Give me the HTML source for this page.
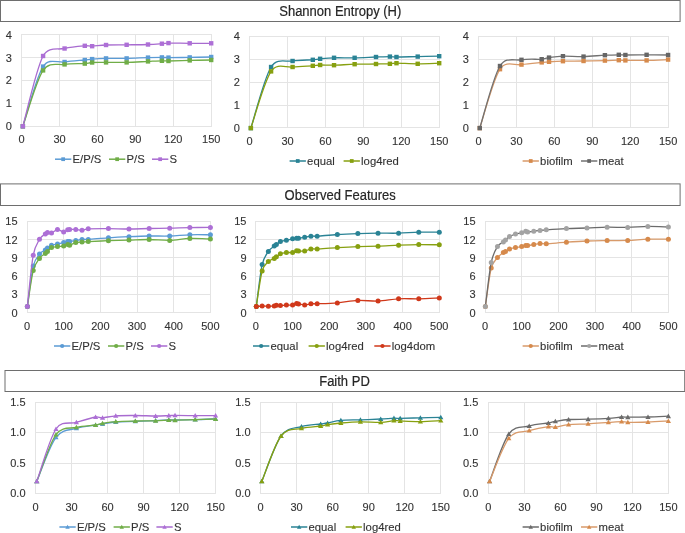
<!DOCTYPE html><html><head><meta charset="utf-8"><style>html,body{margin:0;padding:0;background:#fff;width:685px;height:533px;overflow:hidden}svg{display:block;will-change:transform;filter:blur(0.35px)}text{font-family:'Liberation Sans',sans-serif;stroke:#333;stroke-width:0.12px}</style></head><body>
<svg width="685" height="533" viewBox="0 0 685 533">
<rect width="685" height="533" fill="#fff"/>
<rect x="0.5" y="0.5" width="679.6" height="21" fill="#fff" stroke="#6e6e6e" stroke-width="1"/>
<text x="340.3" y="15.8" font-size="14" fill="#262626" style="stroke:#262626;stroke-width:0.2px" text-anchor="middle" textLength="122.1" lengthAdjust="spacingAndGlyphs">Shannon Entropy (H)</text>
<rect x="0.5" y="183.9" width="679.6" height="21.6" fill="#fff" stroke="#6e6e6e" stroke-width="1"/>
<text x="340.2" y="199.5" font-size="14" fill="#262626" style="stroke:#262626;stroke-width:0.2px" text-anchor="middle" textLength="111.3" lengthAdjust="spacingAndGlyphs">Observed Features</text>
<rect x="5.0" y="370.5" width="679.7" height="21" fill="#fff" stroke="#6e6e6e" stroke-width="1"/>
<text x="344.5" y="385.8" font-size="14" fill="#262626" style="stroke:#262626;stroke-width:0.2px" text-anchor="middle" textLength="50.6" lengthAdjust="spacingAndGlyphs">Faith PD</text>
<path d="M21,126.5H212M21,103.5H212M21,80.5H212M21,57.5H212M21,34.5H212M21.5,34V127M59.5,34V127M97.5,34V127M135.5,34V127M173.5,34V127M211.5,34V127" stroke="#e4e4e4" stroke-width="1" fill="none"/>
<text x="11.9" y="130.2" font-size="11" fill="#333333" text-anchor="end">0</text>
<text x="11.9" y="107.3" font-size="11" fill="#333333" text-anchor="end">1</text>
<text x="11.9" y="84.4" font-size="11" fill="#333333" text-anchor="end">2</text>
<text x="11.9" y="61.5" font-size="11" fill="#333333" text-anchor="end">3</text>
<text x="11.9" y="38.6" font-size="11" fill="#333333" text-anchor="end">4</text>
<text x="21.6" y="143.3" font-size="11" fill="#333333" text-anchor="middle">0</text>
<text x="59.52" y="143.3" font-size="11" fill="#333333" text-anchor="middle">30</text>
<text x="97.44" y="143.3" font-size="11" fill="#333333" text-anchor="middle">60</text>
<text x="135.36" y="143.3" font-size="11" fill="#333333" text-anchor="middle">90</text>
<text x="173.28" y="143.3" font-size="11" fill="#333333" text-anchor="middle">120</text>
<text x="211.2" y="143.3" font-size="11" fill="#333333" text-anchor="middle">150</text>
<path d="M22.86,126.3 C26.23,116.35 36.14,77.32 43.09,66.6 C49.07,57.38 57.62,63.1 64.58,62 C71.53,60.9 80.21,60.48 84.8,60 C88.47,59.61 88.59,59.37 92.13,59.1 C95.67,58.83 100.28,58.52 106.04,58.4 C111.79,58.28 119.64,58.53 126.64,58.4 C133.63,58.27 142.12,57.77 148,57.6 C153.88,57.43 158.49,57.4 161.9,57.4 C165.19,57.4 165.19,57.6 168.48,57.6 C173.11,57.6 182.59,57.5 189.71,57.4 C196.83,57.3 207.62,57.07 211.2,57" stroke="#5b9bd5" stroke-width="1.3" fill="none" stroke-linejoin="round"/>
<rect x="20.66" y="124.1" width="4.4" height="4.4" fill="#5b9bd5"/><rect x="40.89" y="64.4" width="4.4" height="4.4" fill="#5b9bd5"/><rect x="62.38" y="59.8" width="4.4" height="4.4" fill="#5b9bd5"/><rect x="82.6" y="57.8" width="4.4" height="4.4" fill="#5b9bd5"/><rect x="89.93" y="56.9" width="4.4" height="4.4" fill="#5b9bd5"/><rect x="103.84" y="56.2" width="4.4" height="4.4" fill="#5b9bd5"/><rect x="124.44" y="56.2" width="4.4" height="4.4" fill="#5b9bd5"/><rect x="145.8" y="55.4" width="4.4" height="4.4" fill="#5b9bd5"/><rect x="159.7" y="55.2" width="4.4" height="4.4" fill="#5b9bd5"/><rect x="166.28" y="55.4" width="4.4" height="4.4" fill="#5b9bd5"/><rect x="187.51" y="55.2" width="4.4" height="4.4" fill="#5b9bd5"/><rect x="209" y="54.8" width="4.4" height="4.4" fill="#5b9bd5"/>
<path d="M22.86,126.3 C26.23,116.98 36.14,80.72 43.09,70.4 C49.32,61.15 57.62,65.53 64.58,64.4 C71.53,63.27 80.21,63.92 84.8,63.6 C88.5,63.35 88.59,62.7 92.13,62.5 C95.67,62.3 100.28,62.42 106.04,62.4 C111.79,62.38 119.64,62.57 126.64,62.4 C133.63,62.23 142.12,61.67 148,61.4 C153.88,61.13 158.49,60.87 161.9,60.8 C165.19,60.74 165.19,61.05 168.48,61 C173.11,60.93 182.59,60.57 189.71,60.4 C196.83,60.23 207.62,60.07 211.2,60" stroke="#70ad47" stroke-width="1.3" fill="none" stroke-linejoin="round"/>
<rect x="20.66" y="124.1" width="4.4" height="4.4" fill="#70ad47"/><rect x="40.89" y="68.2" width="4.4" height="4.4" fill="#70ad47"/><rect x="62.38" y="62.2" width="4.4" height="4.4" fill="#70ad47"/><rect x="82.6" y="61.4" width="4.4" height="4.4" fill="#70ad47"/><rect x="89.93" y="60.3" width="4.4" height="4.4" fill="#70ad47"/><rect x="103.84" y="60.2" width="4.4" height="4.4" fill="#70ad47"/><rect x="124.44" y="60.2" width="4.4" height="4.4" fill="#70ad47"/><rect x="145.8" y="59.2" width="4.4" height="4.4" fill="#70ad47"/><rect x="159.7" y="58.6" width="4.4" height="4.4" fill="#70ad47"/><rect x="166.28" y="58.8" width="4.4" height="4.4" fill="#70ad47"/><rect x="187.51" y="58.2" width="4.4" height="4.4" fill="#70ad47"/><rect x="209" y="57.8" width="4.4" height="4.4" fill="#70ad47"/>
<path d="M22.86,126.3 C26.23,114.58 36.14,68.97 43.09,56 C48.47,45.97 57.62,50.2 64.58,48.5 C71.53,46.8 80.21,46.18 84.8,45.8 C88.46,45.49 88.59,46.33 92.13,46.2 C95.67,46.07 100.28,45.23 106.04,45 C111.79,44.77 119.64,44.88 126.64,44.8 C133.63,44.72 142.12,44.68 148,44.5 C153.88,44.32 158.49,43.93 161.9,43.7 C165.2,43.47 165.18,43.15 168.48,43.1 C173.11,43.03 182.59,43.27 189.71,43.3 C196.83,43.33 207.62,43.3 211.2,43.3" stroke="#a86bd0" stroke-width="1.3" fill="none" stroke-linejoin="round"/>
<rect x="20.66" y="124.1" width="4.4" height="4.4" fill="#ad6fd6"/><rect x="40.89" y="53.8" width="4.4" height="4.4" fill="#ad6fd6"/><rect x="62.38" y="46.3" width="4.4" height="4.4" fill="#ad6fd6"/><rect x="82.6" y="43.6" width="4.4" height="4.4" fill="#ad6fd6"/><rect x="89.93" y="44" width="4.4" height="4.4" fill="#ad6fd6"/><rect x="103.84" y="42.8" width="4.4" height="4.4" fill="#ad6fd6"/><rect x="124.44" y="42.6" width="4.4" height="4.4" fill="#ad6fd6"/><rect x="145.8" y="42.3" width="4.4" height="4.4" fill="#ad6fd6"/><rect x="159.7" y="41.5" width="4.4" height="4.4" fill="#ad6fd6"/><rect x="166.28" y="40.9" width="4.4" height="4.4" fill="#ad6fd6"/><rect x="187.51" y="41.1" width="4.4" height="4.4" fill="#ad6fd6"/><rect x="209" y="41.1" width="4.4" height="4.4" fill="#ad6fd6"/>
<path d="M55,159.2H71.3" stroke="#5b9bd5" stroke-width="1.5"/>
<rect x="61.28" y="157.33" width="3.74" height="3.74" fill="#5b9bd5"/>
<text x="72.5" y="162.9" font-size="11.3" fill="#333333">E/P/S</text>
<path d="M109,159.2H125.3" stroke="#70ad47" stroke-width="1.5"/>
<rect x="115.28" y="157.33" width="3.74" height="3.74" fill="#70ad47"/>
<text x="126.5" y="162.9" font-size="11.3" fill="#333333">P/S</text>
<path d="M152,159.2H168.3" stroke="#a86bd0" stroke-width="1.5"/>
<rect x="158.28" y="157.33" width="3.74" height="3.74" fill="#ad6fd6"/>
<text x="169.5" y="162.9" font-size="11.3" fill="#333333">S</text>
<path d="M249,127.5H440M249,105.5H440M249,82.5H440M249,59.5H440M249,36.5H440M249.5,36V128M287.5,36V128M325.5,36V128M363.5,36V128M401.5,36V128M439.5,36V128" stroke="#e4e4e4" stroke-width="1" fill="none"/>
<text x="239.9" y="131.8" font-size="11" fill="#333333" text-anchor="end">0</text>
<text x="239.9" y="108.95" font-size="11" fill="#333333" text-anchor="end">1</text>
<text x="239.9" y="86.1" font-size="11" fill="#333333" text-anchor="end">2</text>
<text x="239.9" y="63.25" font-size="11" fill="#333333" text-anchor="end">3</text>
<text x="239.9" y="40.4" font-size="11" fill="#333333" text-anchor="end">4</text>
<text x="249.6" y="144.9" font-size="11" fill="#333333" text-anchor="middle">0</text>
<text x="287.52" y="144.9" font-size="11" fill="#333333" text-anchor="middle">30</text>
<text x="325.44" y="144.9" font-size="11" fill="#333333" text-anchor="middle">60</text>
<text x="363.36" y="144.9" font-size="11" fill="#333333" text-anchor="middle">90</text>
<text x="401.28" y="144.9" font-size="11" fill="#333333" text-anchor="middle">120</text>
<text x="439.2" y="144.9" font-size="11" fill="#333333" text-anchor="middle">150</text>
<path d="M250.86,128.1 C254.23,117.92 264.14,78.18 271.09,67 C276.98,57.53 285.62,62.2 292.58,61 C299.53,59.8 308.21,60.17 312.8,59.8 C316.49,59.51 316.59,59.13 320.13,58.8 C323.67,58.47 328.28,57.97 334.04,57.8 C339.79,57.63 347.64,57.93 354.64,57.8 C361.63,57.67 370.12,57.2 376,57 C381.88,56.8 386.49,56.6 389.9,56.6 C393.2,56.6 393.18,57 396.48,57 C401.11,57 410.59,56.73 417.71,56.6 C424.83,56.47 435.62,56.27 439.2,56.2" stroke="#2a8395" stroke-width="1.3" fill="none" stroke-linejoin="round"/>
<rect x="248.66" y="125.9" width="4.4" height="4.4" fill="#2a8395"/><rect x="268.89" y="64.8" width="4.4" height="4.4" fill="#2a8395"/><rect x="290.38" y="58.8" width="4.4" height="4.4" fill="#2a8395"/><rect x="310.6" y="57.6" width="4.4" height="4.4" fill="#2a8395"/><rect x="317.93" y="56.6" width="4.4" height="4.4" fill="#2a8395"/><rect x="331.84" y="55.6" width="4.4" height="4.4" fill="#2a8395"/><rect x="352.44" y="55.6" width="4.4" height="4.4" fill="#2a8395"/><rect x="373.8" y="54.8" width="4.4" height="4.4" fill="#2a8395"/><rect x="387.7" y="54.4" width="4.4" height="4.4" fill="#2a8395"/><rect x="394.28" y="54.8" width="4.4" height="4.4" fill="#2a8395"/><rect x="415.51" y="54.4" width="4.4" height="4.4" fill="#2a8395"/><rect x="437" y="54" width="4.4" height="4.4" fill="#2a8395"/>
<path d="M250.86,128.1 C254.23,118.65 264.14,81.58 271.09,71.4 C277.27,62.34 285.62,67.93 292.58,67 C299.53,66.07 308.21,66.13 312.8,65.8 C316.48,65.53 316.59,65.1 320.13,65 C323.67,64.9 328.28,65.33 334.04,65.2 C339.79,65.07 347.64,64.4 354.64,64.2 C361.63,64 370.12,64.07 376,64 C381.88,63.93 386.49,63.93 389.9,63.8 C393.2,63.67 393.18,63.2 396.48,63.2 C401.11,63.2 410.59,63.8 417.71,63.8 C424.83,63.8 435.62,63.3 439.2,63.2" stroke="#87a010" stroke-width="1.3" fill="none" stroke-linejoin="round"/>
<rect x="248.66" y="125.9" width="4.4" height="4.4" fill="#87a010"/><rect x="268.89" y="69.2" width="4.4" height="4.4" fill="#87a010"/><rect x="290.38" y="64.8" width="4.4" height="4.4" fill="#87a010"/><rect x="310.6" y="63.6" width="4.4" height="4.4" fill="#87a010"/><rect x="317.93" y="62.8" width="4.4" height="4.4" fill="#87a010"/><rect x="331.84" y="63" width="4.4" height="4.4" fill="#87a010"/><rect x="352.44" y="62" width="4.4" height="4.4" fill="#87a010"/><rect x="373.8" y="61.8" width="4.4" height="4.4" fill="#87a010"/><rect x="387.7" y="61.6" width="4.4" height="4.4" fill="#87a010"/><rect x="394.28" y="61" width="4.4" height="4.4" fill="#87a010"/><rect x="415.51" y="61.6" width="4.4" height="4.4" fill="#87a010"/><rect x="437" y="61" width="4.4" height="4.4" fill="#87a010"/>
<path d="M289.6,161H305.9" stroke="#2a8395" stroke-width="1.5"/>
<rect x="295.88" y="159.13" width="3.74" height="3.74" fill="#2a8395"/>
<text x="307.1" y="164.7" font-size="11.3" fill="#333333">equal</text>
<path d="M343.6,161H359.9" stroke="#87a010" stroke-width="1.5"/>
<rect x="349.88" y="159.13" width="3.74" height="3.74" fill="#87a010"/>
<text x="361.1" y="164.7" font-size="11.3" fill="#333333">log4red</text>
<path d="M478,127.5H669M478,105.5H669M478,82.5H669M478,59.5H669M478,36.5H669M478.5,36V128M516.5,36V128M554.5,36V128M592.5,36V128M630.5,36V128M668.5,36V128" stroke="#e4e4e4" stroke-width="1" fill="none"/>
<text x="468.8" y="131.8" font-size="11" fill="#333333" text-anchor="end">0</text>
<text x="468.8" y="108.95" font-size="11" fill="#333333" text-anchor="end">1</text>
<text x="468.8" y="86.1" font-size="11" fill="#333333" text-anchor="end">2</text>
<text x="468.8" y="63.25" font-size="11" fill="#333333" text-anchor="end">3</text>
<text x="468.8" y="40.4" font-size="11" fill="#333333" text-anchor="end">4</text>
<text x="478.5" y="144.9" font-size="11" fill="#333333" text-anchor="middle">0</text>
<text x="516.42" y="144.9" font-size="11" fill="#333333" text-anchor="middle">30</text>
<text x="554.34" y="144.9" font-size="11" fill="#333333" text-anchor="middle">60</text>
<text x="592.26" y="144.9" font-size="11" fill="#333333" text-anchor="middle">90</text>
<text x="630.18" y="144.9" font-size="11" fill="#333333" text-anchor="middle">120</text>
<text x="668.1" y="144.9" font-size="11" fill="#333333" text-anchor="middle">150</text>
<path d="M479.76,128.1 C483.13,118.28 493.04,79.78 499.99,69.2 C506.02,60.02 514.52,65.73 521.48,64.6 C528.43,63.47 537.11,62.87 541.7,62.4 C545.36,62.03 545.49,62 549.03,61.8 C552.57,61.6 557.18,61.33 562.94,61.2 C568.69,61.07 576.54,61.1 583.54,61 C590.53,60.9 599.02,60.73 604.9,60.6 C610.78,60.47 615.39,60.23 618.8,60.2 C622.09,60.17 622.09,60.38 625.38,60.4 C630.01,60.43 639.49,60.53 646.61,60.4 C653.73,60.27 664.52,59.73 668.1,59.6" stroke="#d89a6a" stroke-width="1.3" fill="none" stroke-linejoin="round"/>
<rect x="477.56" y="125.9" width="4.4" height="4.4" fill="#d68a4c"/><rect x="497.79" y="67" width="4.4" height="4.4" fill="#d68a4c"/><rect x="519.28" y="62.4" width="4.4" height="4.4" fill="#d68a4c"/><rect x="539.5" y="60.2" width="4.4" height="4.4" fill="#d68a4c"/><rect x="546.83" y="59.6" width="4.4" height="4.4" fill="#d68a4c"/><rect x="560.74" y="59" width="4.4" height="4.4" fill="#d68a4c"/><rect x="581.34" y="58.8" width="4.4" height="4.4" fill="#d68a4c"/><rect x="602.7" y="58.4" width="4.4" height="4.4" fill="#d68a4c"/><rect x="616.6" y="58" width="4.4" height="4.4" fill="#d68a4c"/><rect x="623.18" y="58.2" width="4.4" height="4.4" fill="#d68a4c"/><rect x="644.41" y="58.2" width="4.4" height="4.4" fill="#d68a4c"/><rect x="665.9" y="57.4" width="4.4" height="4.4" fill="#d68a4c"/>
<path d="M479.76,128.1 C483.13,117.75 493.04,77.38 499.99,66 C505.82,56.46 514.52,60.93 521.48,59.8 C528.43,58.67 537.11,59.57 541.7,59.2 C545.44,58.9 545.49,58.1 549.03,57.6 C552.57,57.1 557.18,56.37 562.94,56.2 C568.69,56.03 576.54,56.77 583.54,56.6 C590.53,56.43 599.02,55.5 604.9,55.2 C610.78,54.9 615.39,54.83 618.8,54.8 C622.09,54.77 622.09,55 625.38,55 C630.01,55 639.49,54.8 646.61,54.8 C653.73,54.8 664.52,54.97 668.1,55" stroke="#727272" stroke-width="1.3" fill="none" stroke-linejoin="round"/>
<rect x="477.56" y="125.9" width="4.4" height="4.4" fill="#666666"/><rect x="497.79" y="63.8" width="4.4" height="4.4" fill="#666666"/><rect x="519.28" y="57.6" width="4.4" height="4.4" fill="#666666"/><rect x="539.5" y="57" width="4.4" height="4.4" fill="#666666"/><rect x="546.83" y="55.4" width="4.4" height="4.4" fill="#666666"/><rect x="560.74" y="54" width="4.4" height="4.4" fill="#666666"/><rect x="581.34" y="54.4" width="4.4" height="4.4" fill="#666666"/><rect x="602.7" y="53" width="4.4" height="4.4" fill="#666666"/><rect x="616.6" y="52.6" width="4.4" height="4.4" fill="#666666"/><rect x="623.18" y="52.8" width="4.4" height="4.4" fill="#666666"/><rect x="644.41" y="52.6" width="4.4" height="4.4" fill="#666666"/><rect x="665.9" y="52.8" width="4.4" height="4.4" fill="#666666"/>
<path d="M522.6,161H538.9" stroke="#d89a6a" stroke-width="1.5"/>
<rect x="528.88" y="159.13" width="3.74" height="3.74" fill="#d68a4c"/>
<text x="540.1" y="164.7" font-size="11.3" fill="#333333">biofilm</text>
<path d="M581,161H597.3" stroke="#727272" stroke-width="1.5"/>
<rect x="587.28" y="159.13" width="3.74" height="3.74" fill="#666666"/>
<text x="598.5" y="164.7" font-size="11.3" fill="#333333">meat</text>
<path d="M27,312.5H211M27,294.5H211M27,276.5H211M27,257.5H211M27,239.5H211M27,221.5H211M27.5,221V313M63.5,221V313M100.5,221V313M137.5,221V313M173.5,221V313M210.5,221V313" stroke="#e4e4e4" stroke-width="1" fill="none"/>
<text x="17.6" y="316.5" font-size="11" fill="#333333" text-anchor="end">0</text>
<text x="17.6" y="298.26" font-size="11" fill="#333333" text-anchor="end">3</text>
<text x="17.6" y="280.02" font-size="11" fill="#333333" text-anchor="end">6</text>
<text x="17.6" y="261.78" font-size="11" fill="#333333" text-anchor="end">9</text>
<text x="17.6" y="243.54" font-size="11" fill="#333333" text-anchor="end">12</text>
<text x="17.6" y="225.3" font-size="11" fill="#333333" text-anchor="end">15</text>
<text x="27" y="329.6" font-size="11" fill="#333333" text-anchor="middle">0</text>
<text x="63.68" y="329.6" font-size="11" fill="#333333" text-anchor="middle">100</text>
<text x="100.36" y="329.6" font-size="11" fill="#333333" text-anchor="middle">200</text>
<text x="137.04" y="329.6" font-size="11" fill="#333333" text-anchor="middle">300</text>
<text x="173.72" y="329.6" font-size="11" fill="#333333" text-anchor="middle">400</text>
<text x="210.4" y="329.6" font-size="11" fill="#333333" text-anchor="middle">500</text>
<path d="M27.37,306.6 C28.34,299.83 31.22,274.77 33.24,266 C34.75,259.41 37.45,256.67 39.47,254 C41.49,251.33 44.01,251 45.34,250 C46.51,249.12 46.44,248.8 47.47,248 C48.49,247.2 49.83,245.87 51.5,245.2 C53.17,244.53 55.45,244.43 57.48,244 C59.51,243.57 61.97,243 63.68,242.6 C65.39,242.2 66.72,241.8 67.71,241.6 C68.65,241.41 68.67,241.52 69.62,241.4 C70.97,241.23 73.72,240.93 75.78,240.6 C77.85,240.27 79.94,239.6 82.02,239.4 C84.1,239.2 85.14,239.59 88.26,239.4 C92.66,239.13 101.64,238.25 108.43,237.8 C115.22,237.35 122.18,237 128.97,236.7 C135.76,236.4 142.36,236.12 149.14,236 C155.93,235.88 162.9,236.2 169.69,236 C176.47,235.8 183.07,235 189.86,234.8 C196.65,234.6 206.98,234.8 210.4,234.8" stroke="#5b9bd5" stroke-width="1.3" fill="none" stroke-linejoin="round"/>
<circle cx="27.37" cy="306.6" r="2.5" fill="#5b9bd5"/><circle cx="33.24" cy="266" r="2.5" fill="#5b9bd5"/><circle cx="39.47" cy="254" r="2.5" fill="#5b9bd5"/><circle cx="45.34" cy="250" r="2.5" fill="#5b9bd5"/><circle cx="47.47" cy="248" r="2.5" fill="#5b9bd5"/><circle cx="51.5" cy="245.2" r="2.5" fill="#5b9bd5"/><circle cx="57.48" cy="244" r="2.5" fill="#5b9bd5"/><circle cx="63.68" cy="242.6" r="2.5" fill="#5b9bd5"/><circle cx="67.71" cy="241.6" r="2.5" fill="#5b9bd5"/><circle cx="69.62" cy="241.4" r="2.5" fill="#5b9bd5"/><circle cx="75.78" cy="240.6" r="2.5" fill="#5b9bd5"/><circle cx="82.02" cy="239.4" r="2.5" fill="#5b9bd5"/><circle cx="88.26" cy="239.4" r="2.5" fill="#5b9bd5"/><circle cx="108.43" cy="237.8" r="2.5" fill="#5b9bd5"/><circle cx="128.97" cy="236.7" r="2.5" fill="#5b9bd5"/><circle cx="149.14" cy="236" r="2.5" fill="#5b9bd5"/><circle cx="169.69" cy="236" r="2.5" fill="#5b9bd5"/><circle cx="189.86" cy="234.8" r="2.5" fill="#5b9bd5"/><circle cx="210.4" cy="234.8" r="2.5" fill="#5b9bd5"/>
<path d="M27.37,306.6 C28.34,300.6 31.22,278.63 33.24,270.6 C34.9,263.96 37.45,261.27 39.47,258.4 C41.49,255.53 44.01,254.57 45.34,253.4 C46.44,252.44 46.44,252.37 47.47,251.4 C48.49,250.43 49.83,248.4 51.5,247.6 C53.17,246.8 55.45,246.87 57.48,246.6 C59.51,246.33 61.97,246.37 63.68,246 C65.39,245.63 66.72,244.53 67.71,244.4 C68.71,244.27 68.61,245.43 69.62,245.2 C70.97,244.9 73.72,243.13 75.78,242.6 C77.85,242.07 79.94,242.17 82.02,242 C84.1,241.83 85.14,241.75 88.26,241.6 C92.66,241.38 101.64,240.95 108.43,240.7 C115.22,240.45 122.18,240.3 128.97,240.1 C135.76,239.9 142.36,239.45 149.14,239.5 C155.93,239.55 162.9,240.58 169.69,240.4 C176.47,240.22 183.07,238.63 189.86,238.4 C196.65,238.17 206.98,238.9 210.4,239" stroke="#70ad47" stroke-width="1.3" fill="none" stroke-linejoin="round"/>
<circle cx="27.37" cy="306.6" r="2.5" fill="#70ad47"/><circle cx="33.24" cy="270.6" r="2.5" fill="#70ad47"/><circle cx="39.47" cy="258.4" r="2.5" fill="#70ad47"/><circle cx="45.34" cy="253.4" r="2.5" fill="#70ad47"/><circle cx="47.47" cy="251.4" r="2.5" fill="#70ad47"/><circle cx="51.5" cy="247.6" r="2.5" fill="#70ad47"/><circle cx="57.48" cy="246.6" r="2.5" fill="#70ad47"/><circle cx="63.68" cy="246" r="2.5" fill="#70ad47"/><circle cx="67.71" cy="244.4" r="2.5" fill="#70ad47"/><circle cx="69.62" cy="245.2" r="2.5" fill="#70ad47"/><circle cx="75.78" cy="242.6" r="2.5" fill="#70ad47"/><circle cx="82.02" cy="242" r="2.5" fill="#70ad47"/><circle cx="88.26" cy="241.6" r="2.5" fill="#70ad47"/><circle cx="108.43" cy="240.7" r="2.5" fill="#70ad47"/><circle cx="128.97" cy="240.1" r="2.5" fill="#70ad47"/><circle cx="149.14" cy="239.5" r="2.5" fill="#70ad47"/><circle cx="169.69" cy="240.4" r="2.5" fill="#70ad47"/><circle cx="189.86" cy="238.4" r="2.5" fill="#70ad47"/><circle cx="210.4" cy="239" r="2.5" fill="#70ad47"/>
<path d="M27.37,306.6 C28.34,298.03 31.22,266.43 33.24,255.2 C34.75,246.75 37.45,242.73 39.47,239.2 C41.42,235.8 44.01,235.13 45.34,234 C46.35,233.14 46.44,232.57 47.47,232.4 C48.49,232.23 49.83,233.47 51.5,233 C53.17,232.53 55.45,229.77 57.48,229.6 C59.51,229.43 61.97,231.97 63.68,232 C65.39,232.03 66.72,230.23 67.71,229.8 C68.61,229.41 68.65,229.45 69.62,229.4 C70.97,229.33 73.72,229.27 75.78,229.4 C77.85,229.53 79.94,230.3 82.02,230.2 C84.1,230.1 85.07,228.99 88.26,228.8 C92.66,228.53 101.64,228.57 108.43,228.6 C115.22,228.63 122.18,229.02 128.97,229 C135.76,228.98 142.36,228.63 149.14,228.5 C155.93,228.37 162.9,228.35 169.69,228.2 C176.47,228.05 183.07,227.73 189.86,227.6 C196.65,227.47 206.98,227.43 210.4,227.4" stroke="#a86bd0" stroke-width="1.3" fill="none" stroke-linejoin="round"/>
<circle cx="27.37" cy="306.6" r="2.5" fill="#ad6fd6"/><circle cx="33.24" cy="255.2" r="2.5" fill="#ad6fd6"/><circle cx="39.47" cy="239.2" r="2.5" fill="#ad6fd6"/><circle cx="45.34" cy="234" r="2.5" fill="#ad6fd6"/><circle cx="47.47" cy="232.4" r="2.5" fill="#ad6fd6"/><circle cx="51.5" cy="233" r="2.5" fill="#ad6fd6"/><circle cx="57.48" cy="229.6" r="2.5" fill="#ad6fd6"/><circle cx="63.68" cy="232" r="2.5" fill="#ad6fd6"/><circle cx="67.71" cy="229.8" r="2.5" fill="#ad6fd6"/><circle cx="69.62" cy="229.4" r="2.5" fill="#ad6fd6"/><circle cx="75.78" cy="229.4" r="2.5" fill="#ad6fd6"/><circle cx="82.02" cy="230.2" r="2.5" fill="#ad6fd6"/><circle cx="88.26" cy="228.8" r="2.5" fill="#ad6fd6"/><circle cx="108.43" cy="228.6" r="2.5" fill="#ad6fd6"/><circle cx="128.97" cy="229" r="2.5" fill="#ad6fd6"/><circle cx="149.14" cy="228.5" r="2.5" fill="#ad6fd6"/><circle cx="169.69" cy="228.2" r="2.5" fill="#ad6fd6"/><circle cx="189.86" cy="227.6" r="2.5" fill="#ad6fd6"/><circle cx="210.4" cy="227.4" r="2.5" fill="#ad6fd6"/>
<path d="M54,346H70.3" stroke="#5b9bd5" stroke-width="1.5"/>
<circle cx="62.15" cy="346" r="2.12" fill="#5b9bd5"/>
<text x="71.5" y="349.7" font-size="11.3" fill="#333333">E/P/S</text>
<path d="M108,346H124.3" stroke="#70ad47" stroke-width="1.5"/>
<circle cx="116.15" cy="346" r="2.12" fill="#70ad47"/>
<text x="125.5" y="349.7" font-size="11.3" fill="#333333">P/S</text>
<path d="M151,346H167.3" stroke="#a86bd0" stroke-width="1.5"/>
<circle cx="159.15" cy="346" r="2.12" fill="#ad6fd6"/>
<text x="168.5" y="349.7" font-size="11.3" fill="#333333">S</text>
<path d="M255,312.5H440M255,294.5H440M255,276.5H440M255,257.5H440M255,239.5H440M255,221.5H440M255.5,221V313M292.5,221V313M329.5,221V313M365.5,221V313M402.5,221V313M439.5,221V313" stroke="#e4e4e4" stroke-width="1" fill="none"/>
<text x="246.5" y="316.5" font-size="11" fill="#333333" text-anchor="end">0</text>
<text x="246.5" y="298.26" font-size="11" fill="#333333" text-anchor="end">3</text>
<text x="246.5" y="280.02" font-size="11" fill="#333333" text-anchor="end">6</text>
<text x="246.5" y="261.78" font-size="11" fill="#333333" text-anchor="end">9</text>
<text x="246.5" y="243.54" font-size="11" fill="#333333" text-anchor="end">12</text>
<text x="246.5" y="225.3" font-size="11" fill="#333333" text-anchor="end">15</text>
<text x="255.9" y="329.6" font-size="11" fill="#333333" text-anchor="middle">0</text>
<text x="292.58" y="329.6" font-size="11" fill="#333333" text-anchor="middle">100</text>
<text x="329.26" y="329.6" font-size="11" fill="#333333" text-anchor="middle">200</text>
<text x="365.94" y="329.6" font-size="11" fill="#333333" text-anchor="middle">300</text>
<text x="402.62" y="329.6" font-size="11" fill="#333333" text-anchor="middle">400</text>
<text x="439.3" y="329.6" font-size="11" fill="#333333" text-anchor="middle">500</text>
<path d="M256.27,306.6 C257.24,299.6 260.12,273.8 262.14,264.6 C263.7,257.47 266.35,254.5 268.37,251.4 C270.39,248.3 272.91,247.13 274.24,246 C275.21,245.18 275.34,245.33 276.37,244.6 C277.39,243.87 278.73,242.33 280.4,241.6 C282.07,240.87 284.35,240.67 286.38,240.2 C288.41,239.73 290.87,239.13 292.58,238.8 C294.29,238.47 295.62,238.3 296.61,238.2 C297.56,238.1 297.58,238.32 298.52,238.2 C299.87,238.03 302.62,237.53 304.68,237.2 C306.75,236.87 308.84,236.37 310.92,236.2 C313,236.03 314.04,236.4 317.16,236.2 C321.56,235.92 330.54,234.93 337.33,234.5 C344.12,234.07 351.08,233.82 357.87,233.6 C364.66,233.38 371.26,233.27 378.04,233.2 C384.83,233.13 391.8,233.37 398.59,233.2 C405.37,233.03 411.97,232.37 418.76,232.2 C425.55,232.03 435.88,232.2 439.3,232.2" stroke="#2a8395" stroke-width="1.3" fill="none" stroke-linejoin="round"/>
<circle cx="256.27" cy="306.6" r="2.5" fill="#2a8395"/><circle cx="262.14" cy="264.6" r="2.5" fill="#2a8395"/><circle cx="268.37" cy="251.4" r="2.5" fill="#2a8395"/><circle cx="274.24" cy="246" r="2.5" fill="#2a8395"/><circle cx="276.37" cy="244.6" r="2.5" fill="#2a8395"/><circle cx="280.4" cy="241.6" r="2.5" fill="#2a8395"/><circle cx="286.38" cy="240.2" r="2.5" fill="#2a8395"/><circle cx="292.58" cy="238.8" r="2.5" fill="#2a8395"/><circle cx="296.61" cy="238.2" r="2.5" fill="#2a8395"/><circle cx="298.52" cy="238.2" r="2.5" fill="#2a8395"/><circle cx="304.68" cy="237.2" r="2.5" fill="#2a8395"/><circle cx="310.92" cy="236.2" r="2.5" fill="#2a8395"/><circle cx="317.16" cy="236.2" r="2.5" fill="#2a8395"/><circle cx="337.33" cy="234.5" r="2.5" fill="#2a8395"/><circle cx="357.87" cy="233.6" r="2.5" fill="#2a8395"/><circle cx="378.04" cy="233.2" r="2.5" fill="#2a8395"/><circle cx="398.59" cy="233.2" r="2.5" fill="#2a8395"/><circle cx="418.76" cy="232.2" r="2.5" fill="#2a8395"/><circle cx="439.3" cy="232.2" r="2.5" fill="#2a8395"/>
<path d="M256.27,306.6 C257.24,300.67 260.12,278.53 262.14,271 C263.62,265.47 266.35,263.5 268.37,261.4 C270.39,259.3 272.91,259.17 274.24,258.4 C275.39,257.74 275.34,257.57 276.37,256.8 C277.39,256.03 278.73,254.5 280.4,253.8 C282.07,253.1 284.35,252.83 286.38,252.6 C288.41,252.37 290.87,252.7 292.58,252.4 C294.29,252.1 295.62,251.03 296.61,250.8 C297.55,250.58 297.56,250.98 298.52,251 C299.87,251.03 302.62,251.33 304.68,251 C306.75,250.67 308.84,249.33 310.92,249 C313,248.67 314.04,249.17 317.16,249 C321.56,248.77 330.54,248 337.33,247.6 C344.12,247.2 351.08,246.83 357.87,246.6 C364.66,246.37 371.26,246.43 378.04,246.2 C384.83,245.97 391.8,245.47 398.59,245.2 C405.37,244.93 411.97,244.67 418.76,244.6 C425.55,244.53 435.88,244.77 439.3,244.8" stroke="#87a010" stroke-width="1.3" fill="none" stroke-linejoin="round"/>
<circle cx="256.27" cy="306.6" r="2.5" fill="#87a010"/><circle cx="262.14" cy="271" r="2.5" fill="#87a010"/><circle cx="268.37" cy="261.4" r="2.5" fill="#87a010"/><circle cx="274.24" cy="258.4" r="2.5" fill="#87a010"/><circle cx="276.37" cy="256.8" r="2.5" fill="#87a010"/><circle cx="280.4" cy="253.8" r="2.5" fill="#87a010"/><circle cx="286.38" cy="252.6" r="2.5" fill="#87a010"/><circle cx="292.58" cy="252.4" r="2.5" fill="#87a010"/><circle cx="296.61" cy="250.8" r="2.5" fill="#87a010"/><circle cx="298.52" cy="251" r="2.5" fill="#87a010"/><circle cx="304.68" cy="251" r="2.5" fill="#87a010"/><circle cx="310.92" cy="249" r="2.5" fill="#87a010"/><circle cx="317.16" cy="249" r="2.5" fill="#87a010"/><circle cx="337.33" cy="247.6" r="2.5" fill="#87a010"/><circle cx="357.87" cy="246.6" r="2.5" fill="#87a010"/><circle cx="378.04" cy="246.2" r="2.5" fill="#87a010"/><circle cx="398.59" cy="245.2" r="2.5" fill="#87a010"/><circle cx="418.76" cy="244.6" r="2.5" fill="#87a010"/><circle cx="439.3" cy="244.8" r="2.5" fill="#87a010"/>
<path d="M256.27,306.6 C257.24,306.5 260.12,306.07 262.14,306 C264.15,305.93 266.35,306.2 268.37,306.2 C270.39,306.2 272.91,306.17 274.24,306 C275.37,305.86 275.34,305.27 276.37,305.2 C277.39,305.13 278.73,305.63 280.4,305.6 C282.07,305.57 284.35,305.1 286.38,305 C288.41,304.9 290.87,305.27 292.58,305 C294.29,304.73 295.62,303.57 296.61,303.4 C297.6,303.23 297.54,303.81 298.52,304 C299.87,304.27 302.62,305.03 304.68,305 C306.75,304.97 308.84,304 310.92,303.8 C313,303.6 314.04,303.91 317.16,303.8 C321.56,303.65 330.54,303.47 337.33,302.9 C344.12,302.33 351.08,300.7 357.87,300.4 C364.66,300.1 371.26,301.37 378.04,301.1 C384.83,300.83 391.8,299.18 398.59,298.8 C405.37,298.42 411.97,298.93 418.76,298.8 C425.55,298.67 435.88,298.13 439.3,298" stroke="#d0381a" stroke-width="1.3" fill="none" stroke-linejoin="round"/>
<circle cx="256.27" cy="306.6" r="2.5" fill="#d0381a"/><circle cx="262.14" cy="306" r="2.5" fill="#d0381a"/><circle cx="268.37" cy="306.2" r="2.5" fill="#d0381a"/><circle cx="274.24" cy="306" r="2.5" fill="#d0381a"/><circle cx="276.37" cy="305.2" r="2.5" fill="#d0381a"/><circle cx="280.4" cy="305.6" r="2.5" fill="#d0381a"/><circle cx="286.38" cy="305" r="2.5" fill="#d0381a"/><circle cx="292.58" cy="305" r="2.5" fill="#d0381a"/><circle cx="296.61" cy="303.4" r="2.5" fill="#d0381a"/><circle cx="298.52" cy="304" r="2.5" fill="#d0381a"/><circle cx="304.68" cy="305" r="2.5" fill="#d0381a"/><circle cx="310.92" cy="303.8" r="2.5" fill="#d0381a"/><circle cx="317.16" cy="303.8" r="2.5" fill="#d0381a"/><circle cx="337.33" cy="302.9" r="2.5" fill="#d0381a"/><circle cx="357.87" cy="300.4" r="2.5" fill="#d0381a"/><circle cx="378.04" cy="301.1" r="2.5" fill="#d0381a"/><circle cx="398.59" cy="298.8" r="2.5" fill="#d0381a"/><circle cx="418.76" cy="298.8" r="2.5" fill="#d0381a"/><circle cx="439.3" cy="298" r="2.5" fill="#d0381a"/>
<path d="M253,346H269.3" stroke="#2a8395" stroke-width="1.5"/>
<circle cx="261.15" cy="346" r="2.12" fill="#2a8395"/>
<text x="270.5" y="349.7" font-size="11.3" fill="#333333">equal</text>
<path d="M308.6,346H324.9" stroke="#87a010" stroke-width="1.5"/>
<circle cx="316.75" cy="346" r="2.12" fill="#87a010"/>
<text x="326.1" y="349.7" font-size="11.3" fill="#333333">log4red</text>
<path d="M374.3,346H390.6" stroke="#d0381a" stroke-width="1.5"/>
<circle cx="382.45" cy="346" r="2.12" fill="#d0381a"/>
<text x="391.8" y="349.7" font-size="11.3" fill="#333333">log4dom</text>
<path d="M485,312.5H669M485,294.5H669M485,276.5H669M485,257.5H669M485,239.5H669M485,221.5H669M485.5,221V313M521.5,221V313M558.5,221V313M595.5,221V313M631.5,221V313M668.5,221V313" stroke="#e4e4e4" stroke-width="1" fill="none"/>
<text x="475.6" y="316.5" font-size="11" fill="#333333" text-anchor="end">0</text>
<text x="475.6" y="298.26" font-size="11" fill="#333333" text-anchor="end">3</text>
<text x="475.6" y="280.02" font-size="11" fill="#333333" text-anchor="end">6</text>
<text x="475.6" y="261.78" font-size="11" fill="#333333" text-anchor="end">9</text>
<text x="475.6" y="243.54" font-size="11" fill="#333333" text-anchor="end">12</text>
<text x="475.6" y="225.3" font-size="11" fill="#333333" text-anchor="end">15</text>
<text x="485" y="329.6" font-size="11" fill="#333333" text-anchor="middle">0</text>
<text x="521.68" y="329.6" font-size="11" fill="#333333" text-anchor="middle">100</text>
<text x="558.36" y="329.6" font-size="11" fill="#333333" text-anchor="middle">200</text>
<text x="595.04" y="329.6" font-size="11" fill="#333333" text-anchor="middle">300</text>
<text x="631.72" y="329.6" font-size="11" fill="#333333" text-anchor="middle">400</text>
<text x="668.4" y="329.6" font-size="11" fill="#333333" text-anchor="middle">500</text>
<path d="M485.37,306.6 C486.34,300.17 489.22,276.17 491.24,268 C492.69,262.11 495.45,260.17 497.47,257.6 C499.49,255.03 502.01,253.6 503.34,252.6 C504.28,251.89 504.45,252.19 505.47,251.6 C506.49,251 507.83,249.67 509.5,249 C511.17,248.33 513.45,248 515.48,247.6 C517.51,247.2 519.97,246.93 521.68,246.6 C523.39,246.27 524.72,245.77 525.71,245.6 C526.66,245.44 526.68,245.72 527.62,245.6 C528.97,245.43 531.72,244.93 533.78,244.6 C535.85,244.27 537.94,243.73 540.02,243.6 C542.1,243.47 543.14,243.97 546.26,243.8 C550.66,243.57 559.64,242.67 566.43,242.2 C573.22,241.73 580.18,241.27 586.97,241 C593.76,240.73 600.36,240.7 607.14,240.6 C613.93,240.5 620.9,240.63 627.69,240.4 C634.47,240.17 641.07,239.4 647.86,239.2 C654.64,239 664.98,239.2 668.4,239.2" stroke="#d89a6a" stroke-width="1.3" fill="none" stroke-linejoin="round"/>
<circle cx="485.37" cy="306.6" r="2.5" fill="#d68a4c"/><circle cx="491.24" cy="268" r="2.5" fill="#d68a4c"/><circle cx="497.47" cy="257.6" r="2.5" fill="#d68a4c"/><circle cx="503.34" cy="252.6" r="2.5" fill="#d68a4c"/><circle cx="505.47" cy="251.6" r="2.5" fill="#d68a4c"/><circle cx="509.5" cy="249" r="2.5" fill="#d68a4c"/><circle cx="515.48" cy="247.6" r="2.5" fill="#d68a4c"/><circle cx="521.68" cy="246.6" r="2.5" fill="#d68a4c"/><circle cx="525.71" cy="245.6" r="2.5" fill="#d68a4c"/><circle cx="527.62" cy="245.6" r="2.5" fill="#d68a4c"/><circle cx="533.78" cy="244.6" r="2.5" fill="#d68a4c"/><circle cx="540.02" cy="243.6" r="2.5" fill="#d68a4c"/><circle cx="546.26" cy="243.8" r="2.5" fill="#d68a4c"/><circle cx="566.43" cy="242.2" r="2.5" fill="#d68a4c"/><circle cx="586.97" cy="241" r="2.5" fill="#d68a4c"/><circle cx="607.14" cy="240.6" r="2.5" fill="#d68a4c"/><circle cx="627.69" cy="240.4" r="2.5" fill="#d68a4c"/><circle cx="647.86" cy="239.2" r="2.5" fill="#d68a4c"/><circle cx="668.4" cy="239.2" r="2.5" fill="#d68a4c"/>
<path d="M485.37,306.6 C486.34,299.23 489.22,272.4 491.24,262.4 C492.92,254.07 495.45,250 497.47,246.6 C499.37,243.39 502.01,243.1 503.34,242 C504.47,241.07 504.44,240.9 505.47,240 C506.49,239.1 507.83,237.6 509.5,236.6 C511.17,235.6 513.45,234.63 515.48,234 C517.51,233.37 519.97,233.27 521.68,232.8 C523.39,232.33 524.72,231.33 525.71,231.2 C526.71,231.07 526.59,232 527.62,232 C528.97,232 531.72,231.47 533.78,231.2 C535.85,230.93 537.94,230.63 540.02,230.4 C542.1,230.17 543.13,230.01 546.26,229.8 C550.66,229.5 559.64,228.9 566.43,228.6 C573.22,228.3 580.18,228.23 586.97,228 C593.76,227.77 600.36,227.3 607.14,227.2 C613.93,227.1 620.9,227.53 627.69,227.4 C634.47,227.27 641.07,226.47 647.86,226.4 C654.64,226.33 664.98,226.9 668.4,227" stroke="#6b6b6b" stroke-width="1.3" fill="none" stroke-linejoin="round"/>
<circle cx="485.37" cy="306.6" r="2.5" fill="#a3a3a3"/><circle cx="491.24" cy="262.4" r="2.5" fill="#a3a3a3"/><circle cx="497.47" cy="246.6" r="2.5" fill="#a3a3a3"/><circle cx="503.34" cy="242" r="2.5" fill="#a3a3a3"/><circle cx="505.47" cy="240" r="2.5" fill="#a3a3a3"/><circle cx="509.5" cy="236.6" r="2.5" fill="#a3a3a3"/><circle cx="515.48" cy="234" r="2.5" fill="#a3a3a3"/><circle cx="521.68" cy="232.8" r="2.5" fill="#a3a3a3"/><circle cx="525.71" cy="231.2" r="2.5" fill="#a3a3a3"/><circle cx="527.62" cy="232" r="2.5" fill="#a3a3a3"/><circle cx="533.78" cy="231.2" r="2.5" fill="#a3a3a3"/><circle cx="540.02" cy="230.4" r="2.5" fill="#a3a3a3"/><circle cx="546.26" cy="229.8" r="2.5" fill="#a3a3a3"/><circle cx="566.43" cy="228.6" r="2.5" fill="#a3a3a3"/><circle cx="586.97" cy="228" r="2.5" fill="#a3a3a3"/><circle cx="607.14" cy="227.2" r="2.5" fill="#a3a3a3"/><circle cx="627.69" cy="227.4" r="2.5" fill="#a3a3a3"/><circle cx="647.86" cy="226.4" r="2.5" fill="#a3a3a3"/><circle cx="668.4" cy="227" r="2.5" fill="#a3a3a3"/>
<path d="M522.6,346H538.9" stroke="#d89a6a" stroke-width="1.5"/>
<circle cx="530.75" cy="346" r="2.12" fill="#d68a4c"/>
<text x="540.1" y="349.7" font-size="11.3" fill="#333333">biofilm</text>
<path d="M581,346H597.3" stroke="#6b6b6b" stroke-width="1.5"/>
<circle cx="589.15" cy="346" r="2.12" fill="#a3a3a3"/>
<text x="598.5" y="349.7" font-size="11.3" fill="#333333">meat</text>
<path d="M35,493.5H216M35,463.5H216M35,432.5H216M35,402.5H216M35.5,402V494M71.5,402V494M107.5,402V494M143.5,402V494M179.5,402V494M215.5,402V494" stroke="#e4e4e4" stroke-width="1" fill="none"/>
<text x="25.5" y="497.4" font-size="11" fill="#333333" text-anchor="end">0.0</text>
<text x="25.5" y="466.93" font-size="11" fill="#333333" text-anchor="end">0.5</text>
<text x="25.5" y="436.47" font-size="11" fill="#333333" text-anchor="end">1.0</text>
<text x="25.5" y="406" font-size="11" fill="#333333" text-anchor="end">1.5</text>
<text x="35.6" y="510.5" font-size="11" fill="#333333" text-anchor="middle">0</text>
<text x="71.6" y="510.5" font-size="11" fill="#333333" text-anchor="middle">30</text>
<text x="107.6" y="510.5" font-size="11" fill="#333333" text-anchor="middle">60</text>
<text x="143.6" y="510.5" font-size="11" fill="#333333" text-anchor="middle">90</text>
<text x="179.6" y="510.5" font-size="11" fill="#333333" text-anchor="middle">120</text>
<text x="215.6" y="510.5" font-size="11" fill="#333333" text-anchor="middle">150</text>
<path d="M36.8,481.4 C40,474.07 49.4,446.23 56,437.4 C62.6,428.57 69.8,430.47 76.4,428.4 C83,426.33 91.24,425.73 95.6,425 C99.07,424.42 99.2,424.5 102.56,424 C105.92,423.5 110.3,422.43 115.76,422 C121.22,421.57 128.68,421.63 135.32,421.4 C141.96,421.17 150.02,420.87 155.6,420.6 C161.18,420.33 165.56,419.9 168.8,419.8 C171.92,419.7 171.92,420.02 175.04,420 C179.44,419.97 188.44,419.8 195.2,419.6 C201.96,419.4 212.2,418.93 215.6,418.8" stroke="#5b9bd5" stroke-width="1.3" fill="none" stroke-linejoin="round"/>
<path d="M36.8,478.8 L39.4,483.35 L34.2,483.35 Z" fill="#5b9bd5"/><path d="M56,434.8 L58.6,439.35 L53.4,439.35 Z" fill="#5b9bd5"/><path d="M76.4,425.8 L79,430.35 L73.8,430.35 Z" fill="#5b9bd5"/><path d="M95.6,422.4 L98.2,426.95 L93,426.95 Z" fill="#5b9bd5"/><path d="M102.56,421.4 L105.16,425.95 L99.96,425.95 Z" fill="#5b9bd5"/><path d="M115.76,419.4 L118.36,423.95 L113.16,423.95 Z" fill="#5b9bd5"/><path d="M135.32,418.8 L137.92,423.35 L132.72,423.35 Z" fill="#5b9bd5"/><path d="M155.6,418 L158.2,422.55 L153,422.55 Z" fill="#5b9bd5"/><path d="M168.8,417.2 L171.4,421.75 L166.2,421.75 Z" fill="#5b9bd5"/><path d="M175.04,417.4 L177.64,421.95 L172.44,421.95 Z" fill="#5b9bd5"/><path d="M195.2,417 L197.8,421.55 L192.6,421.55 Z" fill="#5b9bd5"/><path d="M215.6,416.2 L218.2,420.75 L213,420.75 Z" fill="#5b9bd5"/>
<path d="M36.8,481.4 C40,473.6 49.4,443.6 56,434.6 C62.4,425.88 69.8,429 76.4,427.4 C83,425.8 91.24,425.67 95.6,425 C99.13,424.46 99.2,423.97 102.56,423.4 C105.92,422.83 110.3,422 115.76,421.6 C121.22,421.2 128.68,421.13 135.32,421 C141.96,420.87 150.02,420.97 155.6,420.8 C161.18,420.63 165.56,420.1 168.8,420 C171.92,419.9 171.92,420.25 175.04,420.2 C179.44,420.13 188.44,419.8 195.2,419.6 C201.96,419.4 212.2,419.1 215.6,419" stroke="#70ad47" stroke-width="1.3" fill="none" stroke-linejoin="round"/>
<path d="M36.8,478.8 L39.4,483.35 L34.2,483.35 Z" fill="#70ad47"/><path d="M56,432 L58.6,436.55 L53.4,436.55 Z" fill="#70ad47"/><path d="M76.4,424.8 L79,429.35 L73.8,429.35 Z" fill="#70ad47"/><path d="M95.6,422.4 L98.2,426.95 L93,426.95 Z" fill="#70ad47"/><path d="M102.56,420.8 L105.16,425.35 L99.96,425.35 Z" fill="#70ad47"/><path d="M115.76,419 L118.36,423.55 L113.16,423.55 Z" fill="#70ad47"/><path d="M135.32,418.4 L137.92,422.95 L132.72,422.95 Z" fill="#70ad47"/><path d="M155.6,418.2 L158.2,422.75 L153,422.75 Z" fill="#70ad47"/><path d="M168.8,417.4 L171.4,421.95 L166.2,421.95 Z" fill="#70ad47"/><path d="M175.04,417.6 L177.64,422.15 L172.44,422.15 Z" fill="#70ad47"/><path d="M195.2,417 L197.8,421.55 L192.6,421.55 Z" fill="#70ad47"/><path d="M215.6,416.4 L218.2,420.95 L213,420.95 Z" fill="#70ad47"/>
<path d="M36.8,481.4 C40,472.67 49.4,438.83 56,429 C61.97,420.1 69.8,424.4 76.4,422.4 C83,420.4 91.24,417.77 95.6,417 C99.05,416.39 99.2,418 102.56,417.8 C105.92,417.6 110.3,416.18 115.76,415.8 C121.22,415.42 128.68,415.47 135.32,415.5 C141.96,415.53 150.02,415.98 155.6,416 C161.18,416.02 165.56,415.7 168.8,415.6 C171.92,415.5 171.92,415.4 175.04,415.4 C179.44,415.4 188.44,415.57 195.2,415.6 C201.96,415.63 212.2,415.6 215.6,415.6" stroke="#a86bd0" stroke-width="1.3" fill="none" stroke-linejoin="round"/>
<path d="M36.8,478.8 L39.4,483.35 L34.2,483.35 Z" fill="#ad6fd6"/><path d="M56,426.4 L58.6,430.95 L53.4,430.95 Z" fill="#ad6fd6"/><path d="M76.4,419.8 L79,424.35 L73.8,424.35 Z" fill="#ad6fd6"/><path d="M95.6,414.4 L98.2,418.95 L93,418.95 Z" fill="#ad6fd6"/><path d="M102.56,415.2 L105.16,419.75 L99.96,419.75 Z" fill="#ad6fd6"/><path d="M115.76,413.2 L118.36,417.75 L113.16,417.75 Z" fill="#ad6fd6"/><path d="M135.32,412.9 L137.92,417.45 L132.72,417.45 Z" fill="#ad6fd6"/><path d="M155.6,413.4 L158.2,417.95 L153,417.95 Z" fill="#ad6fd6"/><path d="M168.8,413 L171.4,417.55 L166.2,417.55 Z" fill="#ad6fd6"/><path d="M175.04,412.8 L177.64,417.35 L172.44,417.35 Z" fill="#ad6fd6"/><path d="M195.2,413 L197.8,417.55 L192.6,417.55 Z" fill="#ad6fd6"/><path d="M215.6,413 L218.2,417.55 L213,417.55 Z" fill="#ad6fd6"/>
<path d="M59.4,527H75.7" stroke="#5b9bd5" stroke-width="1.5"/>
<path d="M67.55,524.79 L69.76,528.66 L65.34,528.66 Z" fill="#5b9bd5"/>
<text x="76.9" y="530.7" font-size="11.3" fill="#333333">E/P/S</text>
<path d="M113.6,527H129.9" stroke="#70ad47" stroke-width="1.5"/>
<path d="M121.75,524.79 L123.96,528.66 L119.54,528.66 Z" fill="#70ad47"/>
<text x="131.1" y="530.7" font-size="11.3" fill="#333333">P/S</text>
<path d="M156.4,527H172.7" stroke="#a86bd0" stroke-width="1.5"/>
<path d="M164.55,524.79 L166.76,528.66 L162.34,528.66 Z" fill="#ad6fd6"/>
<text x="173.9" y="530.7" font-size="11.3" fill="#333333">S</text>
<path d="M260,493.5H441M260,463.5H441M260,432.5H441M260,402.5H441M260.5,402V494M296.5,402V494M332.5,402V494M368.5,402V494M404.5,402V494M440.5,402V494" stroke="#e4e4e4" stroke-width="1" fill="none"/>
<text x="250.5" y="497.4" font-size="11" fill="#333333" text-anchor="end">0.0</text>
<text x="250.5" y="466.93" font-size="11" fill="#333333" text-anchor="end">0.5</text>
<text x="250.5" y="436.47" font-size="11" fill="#333333" text-anchor="end">1.0</text>
<text x="250.5" y="406" font-size="11" fill="#333333" text-anchor="end">1.5</text>
<text x="260.6" y="510.5" font-size="11" fill="#333333" text-anchor="middle">0</text>
<text x="296.64" y="510.5" font-size="11" fill="#333333" text-anchor="middle">30</text>
<text x="332.68" y="510.5" font-size="11" fill="#333333" text-anchor="middle">60</text>
<text x="368.72" y="510.5" font-size="11" fill="#333333" text-anchor="middle">90</text>
<text x="404.76" y="510.5" font-size="11" fill="#333333" text-anchor="middle">120</text>
<text x="440.8" y="510.5" font-size="11" fill="#333333" text-anchor="middle">150</text>
<path d="M261.8,481.4 C265,473.83 274.42,445.13 281.02,436 C287.61,426.89 294.84,428.6 301.45,426.6 C308.05,424.6 316.3,424.6 320.67,424 C324.15,423.52 324.27,423.6 327.63,423 C331,422.4 335.38,420.93 340.85,420.4 C346.32,419.87 353.78,420.03 360.43,419.8 C367.08,419.57 375.15,419.27 380.73,419 C386.32,418.73 390.7,418.3 393.95,418.2 C397.07,418.1 397.07,418.45 400.19,418.4 C404.6,418.33 413.61,417.97 420.38,417.8 C427.14,417.63 437.4,417.47 440.8,417.4" stroke="#2a8395" stroke-width="1.3" fill="none" stroke-linejoin="round"/>
<path d="M261.8,478.8 L264.4,483.35 L259.2,483.35 Z" fill="#2a8395"/><path d="M281.02,433.4 L283.62,437.95 L278.42,437.95 Z" fill="#2a8395"/><path d="M301.45,424 L304.05,428.55 L298.85,428.55 Z" fill="#2a8395"/><path d="M320.67,421.4 L323.27,425.95 L318.07,425.95 Z" fill="#2a8395"/><path d="M327.63,420.4 L330.23,424.95 L325.03,424.95 Z" fill="#2a8395"/><path d="M340.85,417.8 L343.45,422.35 L338.25,422.35 Z" fill="#2a8395"/><path d="M360.43,417.2 L363.03,421.75 L357.83,421.75 Z" fill="#2a8395"/><path d="M380.73,416.4 L383.33,420.95 L378.13,420.95 Z" fill="#2a8395"/><path d="M393.95,415.6 L396.55,420.15 L391.35,420.15 Z" fill="#2a8395"/><path d="M400.19,415.8 L402.79,420.35 L397.59,420.35 Z" fill="#2a8395"/><path d="M420.38,415.2 L422.98,419.75 L417.78,419.75 Z" fill="#2a8395"/><path d="M440.8,414.8 L443.4,419.35 L438.2,419.35 Z" fill="#2a8395"/>
<path d="M261.8,481.4 C265,473.83 274.42,444.83 281.02,436 C287.55,427.28 294.84,430.07 301.45,428.4 C308.05,426.73 316.3,426.63 320.67,426 C324.18,425.49 324.27,425.1 327.63,424.6 C331,424.1 335.38,423.47 340.85,423 C346.32,422.53 353.78,421.9 360.43,421.8 C367.08,421.7 375.15,422.6 380.73,422.4 C386.32,422.2 390.7,420.83 393.95,420.6 C397.07,420.38 397.07,420.88 400.19,421 C404.6,421.17 413.61,421.67 420.38,421.6 C427.14,421.53 437.4,420.77 440.8,420.6" stroke="#87a010" stroke-width="1.3" fill="none" stroke-linejoin="round"/>
<path d="M261.8,478.8 L264.4,483.35 L259.2,483.35 Z" fill="#87a010"/><path d="M281.02,433.4 L283.62,437.95 L278.42,437.95 Z" fill="#87a010"/><path d="M301.45,425.8 L304.05,430.35 L298.85,430.35 Z" fill="#87a010"/><path d="M320.67,423.4 L323.27,427.95 L318.07,427.95 Z" fill="#87a010"/><path d="M327.63,422 L330.23,426.55 L325.03,426.55 Z" fill="#87a010"/><path d="M340.85,420.4 L343.45,424.95 L338.25,424.95 Z" fill="#87a010"/><path d="M360.43,419.2 L363.03,423.75 L357.83,423.75 Z" fill="#87a010"/><path d="M380.73,419.8 L383.33,424.35 L378.13,424.35 Z" fill="#87a010"/><path d="M393.95,418 L396.55,422.55 L391.35,422.55 Z" fill="#87a010"/><path d="M400.19,418.4 L402.79,422.95 L397.59,422.95 Z" fill="#87a010"/><path d="M420.38,419 L422.98,423.55 L417.78,423.55 Z" fill="#87a010"/><path d="M440.8,418 L443.4,422.55 L438.2,422.55 Z" fill="#87a010"/>
<path d="M291,527H307.3" stroke="#2a8395" stroke-width="1.5"/>
<path d="M299.15,524.79 L301.36,528.66 L296.94,528.66 Z" fill="#2a8395"/>
<text x="308.5" y="530.7" font-size="11.3" fill="#333333">equal</text>
<path d="M345.6,527H361.9" stroke="#87a010" stroke-width="1.5"/>
<path d="M353.75,524.79 L355.96,528.66 L351.54,528.66 Z" fill="#87a010"/>
<text x="363.1" y="530.7" font-size="11.3" fill="#333333">log4red</text>
<path d="M488,493.5H669M488,463.5H669M488,432.5H669M488,402.5H669M488.5,402V494M524.5,402V494M560.5,402V494M596.5,402V494M632.5,402V494M668.5,402V494" stroke="#e4e4e4" stroke-width="1" fill="none"/>
<text x="478.3" y="497.4" font-size="11" fill="#333333" text-anchor="end">0.0</text>
<text x="478.3" y="466.93" font-size="11" fill="#333333" text-anchor="end">0.5</text>
<text x="478.3" y="436.47" font-size="11" fill="#333333" text-anchor="end">1.0</text>
<text x="478.3" y="406" font-size="11" fill="#333333" text-anchor="end">1.5</text>
<text x="488.4" y="510.5" font-size="11" fill="#333333" text-anchor="middle">0</text>
<text x="524.4" y="510.5" font-size="11" fill="#333333" text-anchor="middle">30</text>
<text x="560.4" y="510.5" font-size="11" fill="#333333" text-anchor="middle">60</text>
<text x="596.4" y="510.5" font-size="11" fill="#333333" text-anchor="middle">90</text>
<text x="632.4" y="510.5" font-size="11" fill="#333333" text-anchor="middle">120</text>
<text x="668.4" y="510.5" font-size="11" fill="#333333" text-anchor="middle">150</text>
<path d="M489.6,481.4 C492.8,473.5 502.2,443.23 508.8,434 C515.17,425.09 522.6,427.83 529.2,426 C535.8,424.17 544.04,423.77 548.4,423 C551.92,422.38 552,421.98 555.36,421.4 C558.72,420.82 563.1,419.87 568.56,419.5 C574.02,419.13 581.48,419.38 588.12,419.2 C594.76,419.02 602.82,418.77 608.4,418.4 C613.98,418.03 618.36,417.2 621.6,417 C624.72,416.81 624.72,417.2 627.84,417.2 C632.24,417.2 641.24,417.17 648,417 C654.76,416.83 665,416.33 668.4,416.2" stroke="#6b6b6b" stroke-width="1.3" fill="none" stroke-linejoin="round"/>
<path d="M489.6,478.8 L492.2,483.35 L487,483.35 Z" fill="#6b6b6b"/><path d="M508.8,431.4 L511.4,435.95 L506.2,435.95 Z" fill="#6b6b6b"/><path d="M529.2,423.4 L531.8,427.95 L526.6,427.95 Z" fill="#6b6b6b"/><path d="M548.4,420.4 L551,424.95 L545.8,424.95 Z" fill="#6b6b6b"/><path d="M555.36,418.8 L557.96,423.35 L552.76,423.35 Z" fill="#6b6b6b"/><path d="M568.56,416.9 L571.16,421.45 L565.96,421.45 Z" fill="#6b6b6b"/><path d="M588.12,416.6 L590.72,421.15 L585.52,421.15 Z" fill="#6b6b6b"/><path d="M608.4,415.8 L611,420.35 L605.8,420.35 Z" fill="#6b6b6b"/><path d="M621.6,414.4 L624.2,418.95 L619,418.95 Z" fill="#6b6b6b"/><path d="M627.84,414.6 L630.44,419.15 L625.24,419.15 Z" fill="#6b6b6b"/><path d="M648,414.4 L650.6,418.95 L645.4,418.95 Z" fill="#6b6b6b"/><path d="M668.4,413.6 L671,418.15 L665.8,418.15 Z" fill="#6b6b6b"/>
<path d="M489.6,481.4 C492.8,474.23 502.2,446.87 508.8,438.4 C515.4,429.93 522.6,432.57 529.2,430.6 C535.8,428.63 544.04,427.18 548.4,426.6 C551.86,426.14 552,427.43 555.36,427.1 C558.72,426.77 563.1,425.15 568.56,424.6 C574.02,424.05 581.48,424.17 588.12,423.8 C594.76,423.43 602.82,422.77 608.4,422.4 C613.98,422.03 618.36,421.6 621.6,421.6 C624.75,421.6 624.69,422.35 627.84,422.4 C632.24,422.47 641.24,422.23 648,422 C654.76,421.77 665,421.17 668.4,421" stroke="#d89a6a" stroke-width="1.3" fill="none" stroke-linejoin="round"/>
<path d="M489.6,478.8 L492.2,483.35 L487,483.35 Z" fill="#d68a4c"/><path d="M508.8,435.8 L511.4,440.35 L506.2,440.35 Z" fill="#d68a4c"/><path d="M529.2,428 L531.8,432.55 L526.6,432.55 Z" fill="#d68a4c"/><path d="M548.4,424 L551,428.55 L545.8,428.55 Z" fill="#d68a4c"/><path d="M555.36,424.5 L557.96,429.05 L552.76,429.05 Z" fill="#d68a4c"/><path d="M568.56,422 L571.16,426.55 L565.96,426.55 Z" fill="#d68a4c"/><path d="M588.12,421.2 L590.72,425.75 L585.52,425.75 Z" fill="#d68a4c"/><path d="M608.4,419.8 L611,424.35 L605.8,424.35 Z" fill="#d68a4c"/><path d="M621.6,419 L624.2,423.55 L619,423.55 Z" fill="#d68a4c"/><path d="M627.84,419.8 L630.44,424.35 L625.24,424.35 Z" fill="#d68a4c"/><path d="M648,419.4 L650.6,423.95 L645.4,423.95 Z" fill="#d68a4c"/><path d="M668.4,418.4 L671,422.95 L665.8,422.95 Z" fill="#d68a4c"/>
<path d="M522.6,527H538.9" stroke="#6b6b6b" stroke-width="1.5"/>
<path d="M530.75,524.79 L532.96,528.66 L528.54,528.66 Z" fill="#6b6b6b"/>
<text x="540.1" y="530.7" font-size="11.3" fill="#333333">biofilm</text>
<path d="M581,527H597.3" stroke="#d89a6a" stroke-width="1.5"/>
<path d="M589.15,524.79 L591.36,528.66 L586.94,528.66 Z" fill="#d68a4c"/>
<text x="598.5" y="530.7" font-size="11.3" fill="#333333">meat</text>
</svg></body></html>
